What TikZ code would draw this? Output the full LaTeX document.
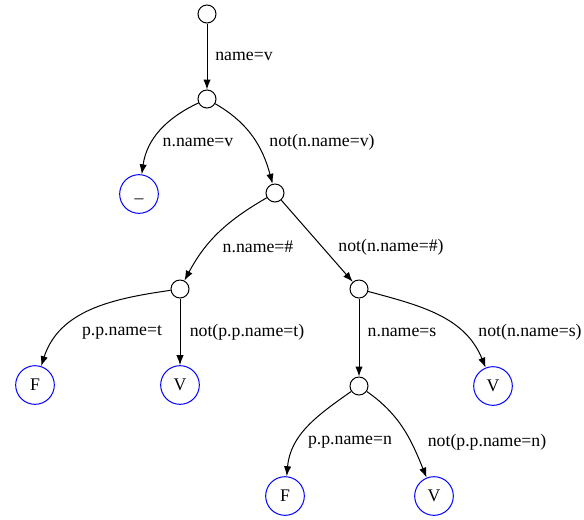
\documentclass[tikz,border=0pt]{standalone}
\usepackage{fontspec}
\setmainfont{Liberation Serif}
\usetikzlibrary{arrows.meta}
\tikzset{>={Latex[length=7.5pt,width=5.5pt]}}
\tikzset{
  test/.style={circle,draw,line width=0.75pt,minimum size=13.5pt,inner sep=0},
  leaf/.style={circle,draw=blue,line width=0.75pt,minimum size=29pt,inner sep=0},
  cond/.style={inner sep=0}
}

\begin{document}
\begin{tikzpicture}[x=0.75pt,y=0.75pt,font=\fontsize{13.3}{16}\selectfont]
    \useasboundingbox (0,0) rectangle (584,-519);
    % tests
    \node[test] (t0) at (207,-14) {};
    \node[test] (t1) at (207,-99) {};
    \node[test] (t2) at (275,-193) {};
    \node[test] (t3) at (180,-289) {};
    \node[test] (t4) at (359,-289) {};
    \node[test] (t5) at (359,-386) {};
    % results
    \node[leaf] (lu) at (139,-194) {\raisebox{-2.8pt}[0pt][0pt]{\symbol{95}}};
    \node[leaf] (lf1) at (35,-385) {F};
    \node[leaf] (lv1) at (180,-385) {V};
    \node[leaf] (lv2) at (493,-386) {V};
    \node[leaf] (lf2) at (285,-496) {F};
    \node[leaf] (lv3) at (434,-496) {V};
    % edges
    \draw[->,line width=0.75pt] (t0) -- (t1);
    \draw[->,line width=0.75pt] (t1) to[out=205,in=82] (lu);
    \draw[->,line width=0.75pt] (t1) to[out=-30,in=105] (t2);
    \draw[->,line width=0.75pt] (t2) to[out=210,in=62] (t3);
    \draw[->,line width=0.75pt] (t2) -- (t4);
    \draw[->,line width=0.75pt] (t3) to[out=188,in=72] (lf1);
    \draw[->,line width=0.75pt] (t3) -- (lv1);
    \draw[->,line width=0.75pt] (t4) -- (t5);
    \draw[->,line width=0.75pt] (t4) to[out=-15,in=112] (lv2);
    \draw[->,line width=0.75pt] (t5) to[out=215,in=85] (lf2);
    \draw[->,line width=0.75pt] (t5) to[out=-35,in=112] (lv3);
    % conditions
    \node[cond] (c1) at (244,-56) {name=v};
    \node[cond] (c2) at (198,-142) {n.name=v};
    \node[cond] (c3) at (322,-142) {not(n.name=v)};
    \node[cond] (c4) at (258,-247) {n.name=\#};
    \node[cond] (c5) at (391,-247) {not(n.name=\#)};
    \node[cond] (c6) at (122,-332) {p.p.name=t};
    \node[cond] (c7) at (247,-332) {not(p.p.name=t)};
    \node[cond] (c8) at (402,-332) {n.name=s};
    \node[cond] (c9) at (530,-332) {not(n.name=s)};
    \node[cond] (c10) at (350,-442) {p.p.name=n};
    \node[cond] (c11) at (487,-442) {not(p.p.name=n)};
\end{tikzpicture}
\end{document}
